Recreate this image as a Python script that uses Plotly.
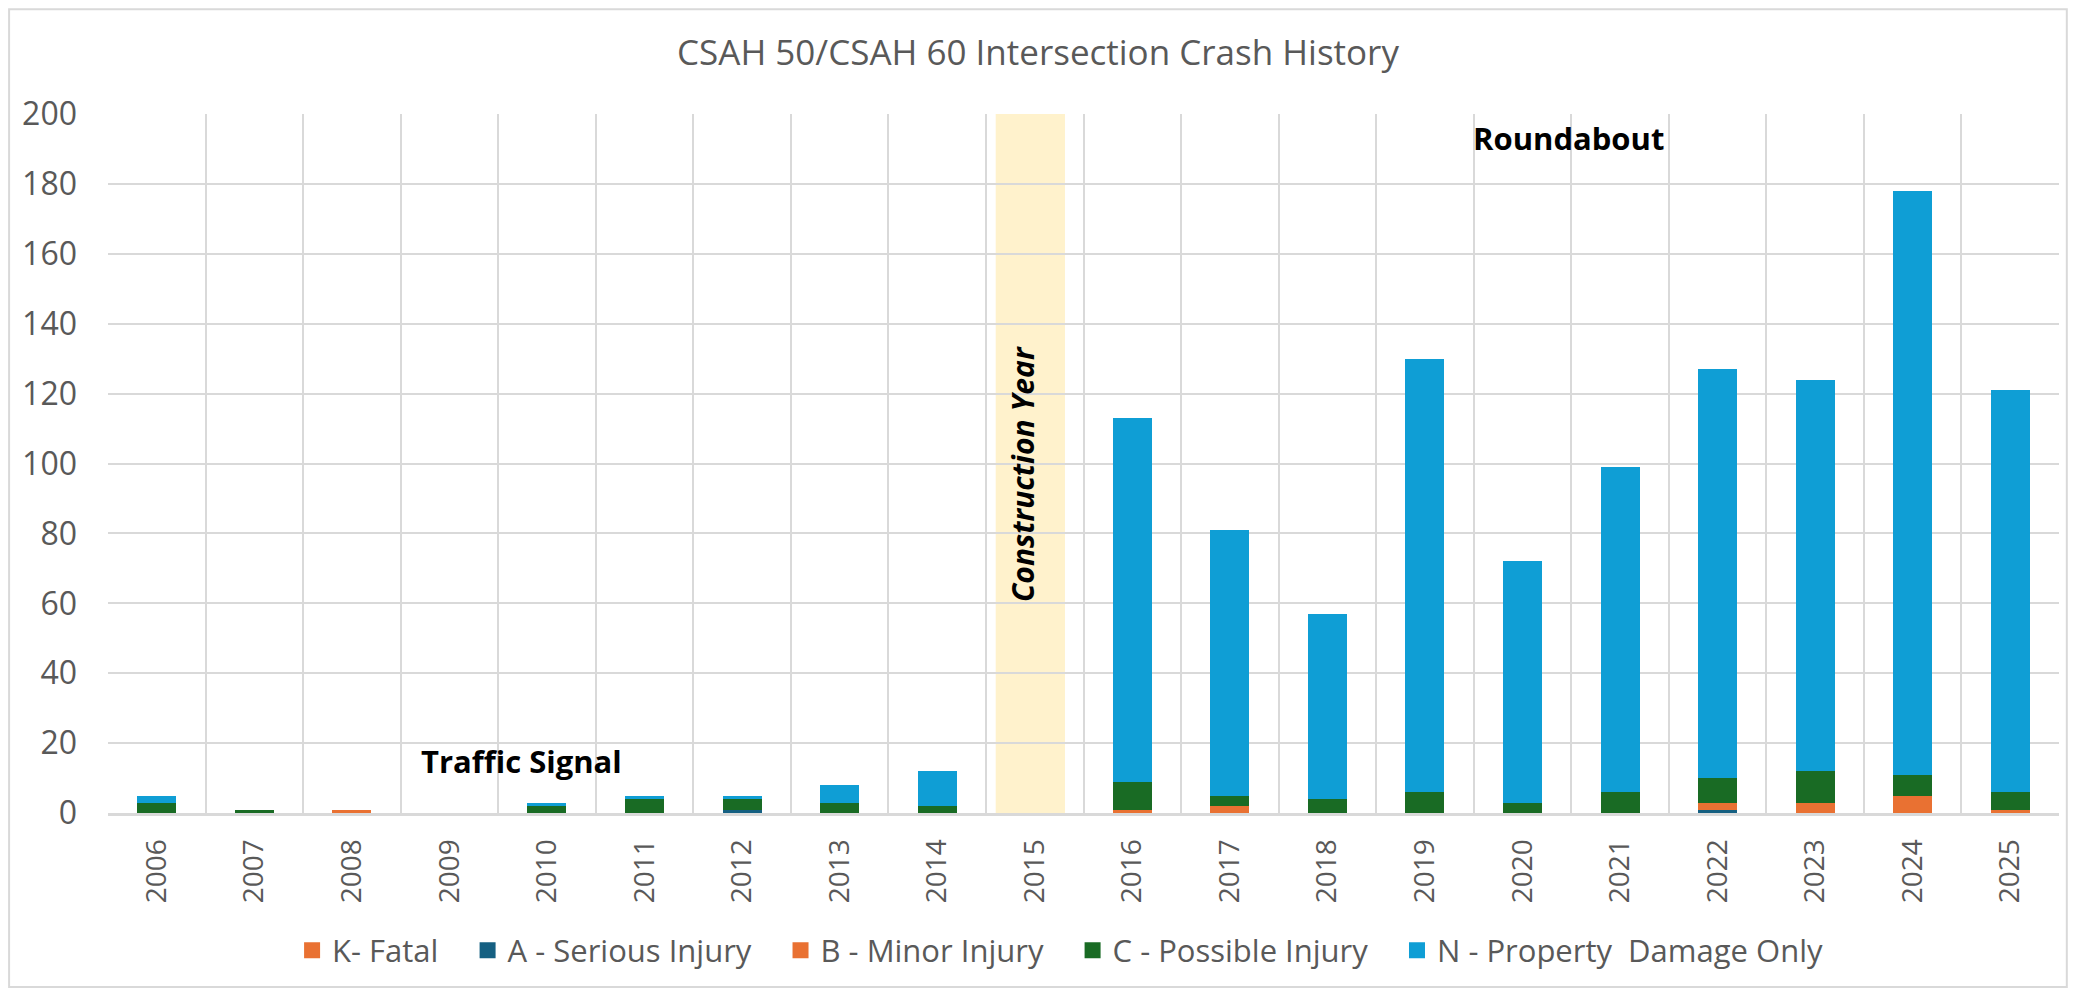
import plotly.graph_objects as go

years = [str(y) for y in range(2006, 2026)]
k_fatal   = [0, 0, 0, 0, 0, 0, 0, 0, 0, 0, 0, 0, 0, 0, 0, 0, 0, 0, 0, 0]
a_serious = [0, 0, 0, 0, 0, 0, 1, 0, 0, 0, 0, 0, 0, 0, 0, 0, 1, 0, 0, 0]
b_minor   = [0, 0, 1, 0, 0, 0, 0, 0, 0, 0, 1, 2, 0, 0, 0, 0, 2, 3, 5, 1]
c_possible= [3, 1, 0, 0, 2, 4, 3, 3, 2, 0, 8, 3, 4, 6, 3, 6, 7, 9, 6, 5]
n_pdo     = [2, 0, 0, 0, 1, 1, 1, 5, 10, 0, 104, 76, 53, 124, 69, 93, 117, 112, 167, 115]

names  = ["K- Fatal", "A - Serious Injury", "B - Minor Injury", "C - Possible Injury",
          "N - Property\u00a0 Damage Only"]
values = [k_fatal, a_serious, b_minor, c_possible, n_pdo]
colors = ["#E97132", "#156082", "#E97132", "#196B24", "#0F9ED5"]

FONT = "Open Sans, Liberation Sans, sans-serif"
PAD = "\u00a0\u00a0\u00a0"
fig = go.Figure()
for i, (name, vals, col) in enumerate(zip(names, values, colors)):
    fig.add_trace(go.Bar(x=years, y=vals, name=name, legendgroup=name, showlegend=False,
                         marker=dict(color=col, line=dict(width=0))))
for i, (name, col) in enumerate(zip(names, colors)):
    label = name + (PAD if i < len(names) - 1 else "")
    fig.add_trace(go.Scatter(x=[None], y=[None], mode="markers", name=label, legendgroup=name,
                             marker=dict(symbol="square", size=16, color=col)))

fig.update_layout(
    width=2060, height=981,
    barmode="stack", bargap=0.6,
    paper_bgcolor="white", plot_bgcolor="white",
    margin=dict(l=100, r=9, t=106, b=176),
    font=dict(family=FONT, color="#595959"),
    title=dict(text="CSAH 50/CSAH 60 Intersection Crash History", x=0.5, xanchor="center",
               y=0.954, yanchor="middle", font=dict(size=35, color="#595959", family=FONT)),
    legend=dict(orientation="h", x=0.488, xanchor="center", y=-0.197, yanchor="middle",
                font=dict(size=31, color="#595959"), traceorder="normal", itemwidth=30,
                itemsizing="trace"),
    showlegend=True,
)
fig.update_xaxes(type="category", tickangle=-90, tickson="boundaries", showgrid=True,
                 gridcolor="#D9D9D9", gridwidth=2, showline=True, linecolor="#D9D9D9", linewidth=3,
                 tickfont=dict(size=28, color="#595959"), ticks="", ticklabelstandoff=12)
fig.update_yaxes(range=[0, 200], dtick=20, showgrid=True, gridcolor="#D9D9D9", gridwidth=2,
                 zeroline=False, showline=False, tickfont=dict(size=32, color="#595959"),
                 ticklabelstandoff=30)

# construction-year band
fig.add_shape(type="rect", xref="x", yref="y", x0=8.6, x1=9.31, y0=-1, y1=200,
              fillcolor="#FFF2CC", line=dict(width=0), layer="below")
# chart border
fig.add_shape(type="rect", xref="paper", yref="paper", x0=-0.0507, x1=1.004, y0=-0.249, y1=1.150,
              line=dict(color="#D9D9D9", width=2))

fig.add_annotation(x=3.74, y=15, xref="x", yref="y", text="<b>Traffic Signal</b>", showarrow=False,
                   font=dict(size=31, color="black", family=FONT))
fig.add_annotation(x=14.47, y=193, xref="x", yref="y", text="<b>Roundabout</b>", showarrow=False,
                   font=dict(size=31, color="black", family=FONT))
fig.add_annotation(x=8.88, y=97, xref="x", yref="y", text="<b><i>Construction Year</i></b>",
                   showarrow=False, textangle=-90, font=dict(size=30, color="black", family=FONT))

fig.write_html("out.html")
